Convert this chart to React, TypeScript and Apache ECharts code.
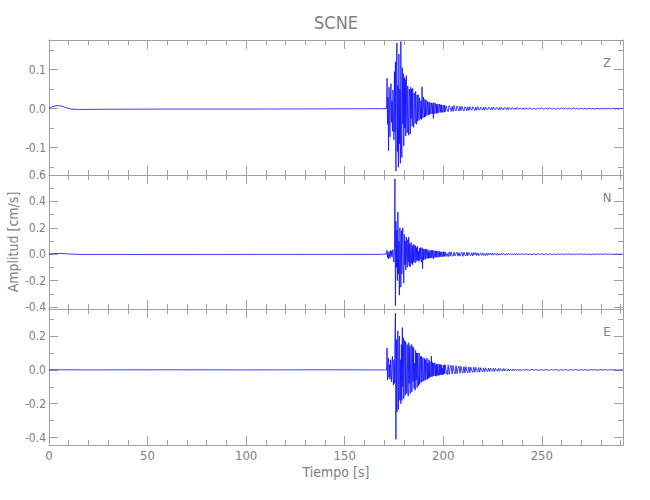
import React, { useEffect, useRef } from 'react';
import * as echarts from 'echarts';

// ---------------- data ----------------
const chartTitle = 'SCNE';
const componentNames = ['Z', 'N', 'E'];
const xAxisName = 'Tiempo [s]';
const yAxisName = 'Amplitud [cm/s]';

const xMin = 0;
const xMax = 291.2;
const xMajorTicks = [0, 50, 100, 150, 200, 250];
const xTickLabels = ['0', '50', '100', '150', '200', '250'];
const xMinorTicks = [0, 10, 20, 30, 40, 50, 60, 70, 80, 90, 100, 110, 120, 130, 140, 150, 160, 170, 180, 190, 200, 210, 220, 230, 240, 250, 260, 270, 280, 290];

const zRange = [-0.17, 0.176];
const nRange = [-0.415, 0.6];
const eRange = [-0.444, 0.36];

const zMajorTicks = [-0.1, 0.0, 0.1];
const zTickLabels = ['-0.1', '0.0', '0.1'];
const zMinorTicks = [-0.15, -0.1, -0.05, 0.0, 0.05, 0.1, 0.15];
const nMajorTicks = [-0.4, -0.2, 0.0, 0.2, 0.4, 0.6];
const nTickLabels = ['-0.4', '-0.2', '0.0', '0.2', '0.4', '0.6'];
const nMinorTicks = [-0.4, -0.3, -0.2, -0.1, 0.0, 0.1, 0.2, 0.3, 0.4, 0.5, 0.6];
const eMajorTicks = [-0.4, -0.2, 0.0, 0.2];
const eTickLabels = ['-0.4', '-0.2', '0.0', '0.2'];
const eMinorTicks = [-0.4, -0.3, -0.2, -0.1, 0.0, 0.1, 0.2, 0.3];

// quiet part before the event: [time s, amplitude cm/s]
const zPre = [[0, 0], [1.5, 0.005], [4, 0.0078], [6, 0.007], [8.5, 0.003], [11, -0.001], [15, -0.002], [30, -0.0015], [60, -0.001], [100, -0.001], [140, -0.0005], [168.5, 0]];
const nPre = [[0, 0], [2, 0.004], [5, 0.006], [8, 0.004], [11, 0.001], [15, -0.002], [40, -0.002], [100, -0.0015], [168.5, -0.001]];
const ePre = [[0, 0.001], [20, 0], [60, 0.0005], [100, 0], [140, 0.0005], [168.5, 0]];

// strong motion: samples every 0.25 s from 169 s (units of 0.001 cm/s)
const burstStart = 169;
const burstStep = 0.25;
const zBurst = [
  0, 1, -1, 0, 1, -1, 2, -1,
  -2, 1, 78, -40, 30, -108, 55, -30,
  -72, 40, 64, -35, 20, -58, 48, -25,
  -80, 95, -60, 120, -160, 90, 168, -110,
  60, -150, 140, -90, 50, -140, 172, -60,
  -125, 105, -40, 90, -95, 80, -50, 75,
  -70, 85, -30, -62, 58, -20, -68, 50,
  30, -65, 55, -25, 50, -45, 52, -30,
  -48, 40, 15, -38, 44, -20, -40, 35,
  -32, 36, -10, -30, 28, 10, -26, 20,
  -28, 56, -15, -24, 30, 5, -22, 24,
  -20, 22, -8, -18, 19, 6, -16, 17,
  -15, 16, -5, -14, 15, 4, -13, 14,
  -25, 16, -6, -13, 14, 3, -12, 12,
  -12, 11, -4, -10, 12, 3, -10, 10,
  -9, 10, -3, -10, 9, 2, -9, 9];
const nBurst = [
  0, 1, -1, 0, 1, -1, 2, -1,
  -2, 1, 30, -25, 10, -35, 20, -15,
  -30, 28, -10, 25, -22, 15, 35, -40,
  -60, 40, 570, -390, 250, -100, 180, -200,
  320, -150, 100, -310, 200, 80, -250, 180,
  -150, 120, 200, -120, -220, 150, -80, 100,
  -120, 130, -40, -100, 110, -60, 130, -90,
  80, -95, 40, 90, -70, 60, -80, 75,
  -60, 70, -30, -65, 65, -55, 50, -45,
  60, -50, 20, -55, 45, -40, 50, -35,
  -60, 50, -110, 40, -45, 40, 25, -40,
  38, -35, 15, 40, -30, 30, -32, 20,
  -28, 32, -10, -30, 28, -25, 30, -20,
  -35, 28, -10, -25, 26, -22, 24, -18,
  -24, 22, -8, -22, 24, -20, 18, -16,
  -20, 18, -6, -19, 20, -17, 16, -15];
const eBurst = [
  0, 1, -1, 0, 2, -1, 1, -2,
  1, -2, 130, -60, 40, 70, -45, 30,
  -55, 60, -20, -70, 50, 80, -40, -90,
  60, -80, 200, 335, -410, 180, -250, 120,
  230, -235, 100, 200, -180, 60, -200, 150,
  -180, 250, -100, 190, -170, 80, 175, -150,
  165, -60, -140, 150, -100, -155, 160, -80,
  140, -140, 60, 150, -130, -120, 140, -70,
  130, -110, 40, -120, 115, -60, 100, -105,
  100, -40, -95, 100, -85, 50, 80, -75,
  80, -70, 30, 72, -65, -40, 68, -62,
  60, -58, 20, 70, -55, 40, -50, 60,
  -45, 50, -30, -42, 82, -40, 45, -38,
  40, -35, 15, 42, -36, 30, -38, 36,
  -32, 35, -12, -34, 33, -30, 32, -28,
  30, -28, 10, -30, 28, -26, 30, -24];

// coda: samples every 0.5 s from 201 s (units of 0.001 cm/s)
const codaStart = 201;
const codaStep = 0.5;
const zCoda = [
  -8, 7, -3, -8, 8, 2, -7, 6,
  -7, 8, -2, -6, 7, 1, -6, 6,
  -5, 6, -2, -6, 5, 2, -5, 5,
  -5, 5, -1, -4, 5, 1, -5, 4,
  -4, 5, -1, -4, 4, 1, -4, 4,
  -4, 4, -1, -3, 4, 1, -3, 3,
  -3, 4, -1, -3, 3, 0, -3, 3,
  -3, 3, -1, -3, 3, 0, -2, 3,
  -3, 3, 0, -2, 3, 0, -2, 2,
  -2, 3, 0, -2, 2, 0, -2, 2];
const nCoda = [
  18, -16, 6, -19, 16, -15, 18, -12,
  -14, 15, -13, 4, 16, -15, 12, -14,
  5, 15, -16, 14, -6, -13, 15, -12,
  13, -4, -11, 12, -13, 11, -5, 12,
  -10, 10, -11, 3, 10, -9, 10, -9,
  4, -10, 8, -9, 8, -3, 8, -7,
  8, -7, 3, 7, -7, 6, -7, 2,
  -6, 6, -5, 6, -2, -5, 5, -6,
  5, -2, 5, -4, 5, -4, 2, -5,
  4, -4, 4, -1, -4, 4, -3, 4];
const eCoda = [
  30, -10, -28, 30, -26, 12, 28, -25,
  26, -8, -24, 25, -22, 9, 22, -20,
  21, -6, -19, 20, -18, 19, -7, -17,
  18, -16, 16, -5, -15, 16, -14, 15,
  -4, -13, 14, -13, 13, -4, -12, 12,
  -11, 12, -3, -10, 11, -10, 10, -3,
  -9, 10, -9, 9, -3, -8, 9, -8,
  8, -2, -7, 8, -7, 7, -2, -6,
  6, -6, 5, -2, -5, 5, -4, 5,
  -1, -4, 4, -4, 4, -1, -3, 3];

// tail: samples every 1 s from 241 s to 291 s (units of 0.001 cm/s)
const tailStart = 241;
const tailStep = 1;
const zTail = [
  -2, 2, -1, 2, -2, 1, -2, 2, -1, 2,
  -2, 1, -1, 2, -1, 1, -2, 1, -1, 2,
  -1, 1, -1, 1, -1, 2, -1, 1, -1, 1,
  -1, 1, -1, 1, -1, 1, -1, 1, -1, 1,
  -1, 1, -1, 1, -1, 1, -1, 1, -1, 1, 0];
const nTail = [
  -3, 4, -3, 1, -3, 3, -4, 3, -1, 3,
  -3, 3, -2, 3, -3, 1, -3, 3, -2, 2,
  -3, 2, -1, 2, -3, 2, -2, 2, -1, 2,
  -2, 2, -2, 1, -2, 2, -2, 2, -1, 2,
  -2, 2, -1, 2, -2, 1, -2, 2, -1, 1, 0];
const eTail = [
  -3, 3, -1, -2, 3, -2, 2, -1, -2, 2,
  -3, 3, -1, -2, 3, -2, 2, -1, -2, 2,
  -2, 2, -1, -2, 2, -2, 2, -1, -2, 2,
  -2, 2, -1, -2, 2, -1, 2, -1, -2, 2,
  -1, 2, -1, -1, 2, -1, 1, -1, -1, 1, 0];

// ---------------- helpers ----------------
const AXIS_COLOR = '#a0a0a0';
const TEXT_COLOR = '#808080';
const FONT = '"Liberation Sans Narrow", "DejaVu Sans Condensed", "Open Sans", sans-serif';
const LINE_COLOR = '#0a0aff';

function buildTrace(pre: number[][], burst: number[], coda: number[], tail: number[]) {
  const out: number[][] = pre.map((p) => [p[0], p[1]]);
  burst.forEach((v, i) => out.push([burstStart + i * burstStep, v / 1000]));
  coda.forEach((v, i) => out.push([codaStart + i * codaStep, v / 1000]));
  tail.forEach((v, i) => out.push([tailStart + i * tailStep, v / 1000]));
  return out;
}

function lookup(values: number[], labels: string[]) {
  return (v: number) => {
    const i = values.findIndex((x) => Math.abs(x - v) < 1e-9);
    return i >= 0 ? labels[i] : '';
  };
}

const panels = [
  { range: zRange, major: zMajorTicks, labels: zTickLabels, minor: zMinorTicks, data: buildTrace(zPre, zBurst, zCoda, zTail), top: 40, height: 135, name: componentNames[0] },
  { range: nRange, major: nMajorTicks, labels: nTickLabels, minor: nMinorTicks, data: buildTrace(nPre, nBurst, nCoda, nTail), top: 175, height: 134, name: componentNames[1] },
  { range: eRange, major: eMajorTicks, labels: eTickLabels, minor: eMinorTicks, data: buildTrace(ePre, eBurst, eCoda, eTail), top: 309, height: 136, name: componentNames[2] },
];

const LEFT = 49;
const RIGHT_EDGE = 623;

function xAx(g: number, position: string, major: boolean, showLabels: boolean) {
  return {
    type: 'value', gridIndex: g, position, min: xMin, max: xMax,
    axisLine: { show: major, onZero: false, lineStyle: { color: AXIS_COLOR, width: 1 } },
    axisTick: { show: true, inside: true, length: major ? 9 : 5, customValues: major ? xMajorTicks : xMinorTicks, lineStyle: { color: AXIS_COLOR, width: 1 } },
    axisLabel: showLabels
      ? { show: true, customValues: xMajorTicks, formatter: lookup(xMajorTicks, xTickLabels), color: TEXT_COLOR, fontFamily: FONT, fontSize: 13, margin: 4 }
      : { show: false },
    splitLine: { show: false },
  };
}

function yAx(g: number, p: any, position: string, major: boolean, showLabels: boolean) {
  return {
    type: 'value', gridIndex: g, position, min: p.range[0], max: p.range[1],
    axisLine: { show: major, onZero: false, lineStyle: { color: AXIS_COLOR, width: 1 } },
    axisTick: { show: true, inside: true, length: major ? 9 : 5, customValues: major ? p.major : p.minor, lineStyle: { color: AXIS_COLOR, width: 1 } },
    axisLabel: showLabels
      ? { show: true, customValues: p.major, formatter: lookup(p.major, p.labels), color: TEXT_COLOR, fontFamily: FONT, fontSize: 12, margin: 3 }
      : { show: false },
    splitLine: { show: false },
  };
}

export default function App() {
  const ref = useRef<HTMLDivElement>(null);
  useEffect(() => {
    if (!ref.current) return;
    const chart = echarts.init(ref.current, undefined, { renderer: 'svg' });
    const grid: any[] = [];
    const xAxis: any[] = [];
    const yAxis: any[] = [];
    const series: any[] = [];
    const graphic: any[] = [];
    panels.forEach((p, g) => {
      grid.push({ left: LEFT, width: RIGHT_EDGE - LEFT, top: p.top, height: p.height, containLabel: false });
      xAxis.push(xAx(g, 'bottom', true, g === 2));
      xAxis.push(xAx(g, 'bottom', false, false));
      xAxis.push(xAx(g, 'top', true, false));
      xAxis.push(xAx(g, 'top', false, false));
      yAxis.push(yAx(g, p, 'left', true, true));
      yAxis.push(yAx(g, p, 'left', false, false));
      yAxis.push(yAx(g, p, 'right', true, false));
      yAxis.push(yAx(g, p, 'right', false, false));
      series.push({
        type: 'line', xAxisIndex: g * 4, yAxisIndex: g * 4, data: p.data,
        symbol: 'none', showSymbol: false,
        lineStyle: { color: LINE_COLOR, width: 0.8 },
        emphasis: { disabled: true },
      });
      graphic.push({
        type: 'text', x: 607, y: p.top + 22,
        style: { text: p.name, fill: TEXT_COLOR, font: `13px ${FONT}`, align: 'center', verticalAlign: 'middle' },
      });
    });
    graphic.push({
      type: 'text', x: (LEFT + RIGHT_EDGE) / 2, y: 22,
      style: { text: chartTitle, fill: TEXT_COLOR, font: `18px ${FONT}`, align: 'center', verticalAlign: 'middle' },
    });
    graphic.push({
      type: 'text', x: (LEFT + RIGHT_EDGE) / 2, y: 472,
      style: { text: xAxisName, fill: TEXT_COLOR, font: `14px ${FONT}`, align: 'center', verticalAlign: 'middle' },
    });
    graphic.push({
      type: 'text', x: 13, y: 242, rotation: Math.PI / 2,
      style: { text: yAxisName, fill: TEXT_COLOR, font: `14px ${FONT}`, align: 'center', verticalAlign: 'middle' },
    });
    chart.setOption({
      animation: false,
      backgroundColor: '#ffffff',
      grid, xAxis, yAxis, series, graphic,
    });
    return () => chart.dispose();
  }, []);
  return <div ref={ref} style={{ position: 'absolute', left: 0, top: 0, width: 650, height: 500 }} />;
}
